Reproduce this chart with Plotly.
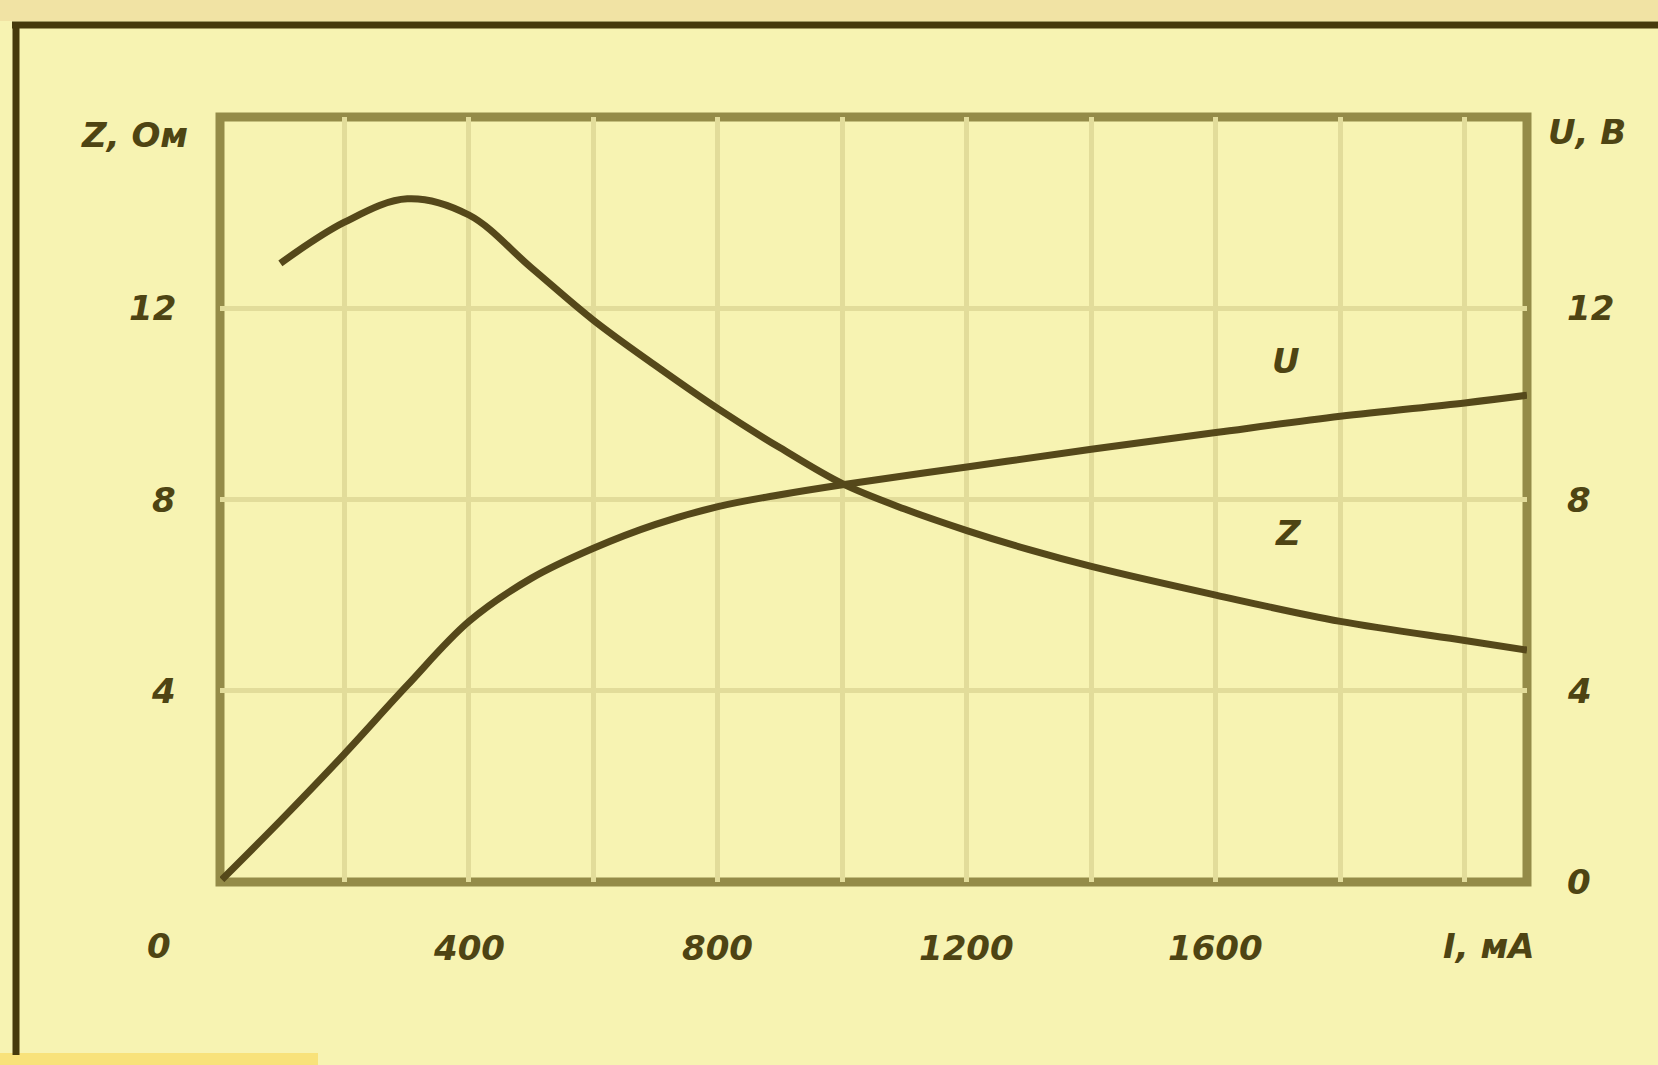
import plotly.graph_objects as go

# Current I, mA and the two characteristics
current_z = [97, 200, 301, 400, 500, 600, 700, 800, 900, 1000, 1100, 1200, 1300, 1400, 1600, 1800, 2000, 2100]
impedance = [12.94, 13.8, 14.29, 13.95, 12.85, 11.75, 10.8, 9.9, 9.08, 8.33, 7.8, 7.35, 6.95, 6.6, 6.0, 5.45, 5.05, 4.85]

current_u = [3, 100, 200, 300, 400, 500, 600, 700, 800, 900, 1000, 1200, 1400, 1600, 1800, 2000, 2100]
voltage = [0.05, 1.32, 2.68, 4.1, 5.45, 6.35, 6.98, 7.48, 7.85, 8.1, 8.31, 8.68, 9.05, 9.4, 9.74, 10.02, 10.18]

x_ticks = [400, 800, 1200, 1600]
y_ticks_left = [4, 8, 12]
y_ticks_right = [0, 4, 8, 12]

W, H = 1658, 1065
L, R, T, B = 220, 131, 117, 183
PW, PH = W - L - R, H - T - B

BG = "#f7f3b2"
INK = "#4e4413"
CURVE = "#55481a"
FRAME = "#948b48"
GRID = "#e2dc9a"


def px(xp):
    return (xp - L) / PW


def py(yp):
    return (H - B - yp) / PH


font = dict(family="DejaVu Sans", size=34, color=INK, weight="bold", style="italic")

fig = go.Figure()
fig.add_trace(go.Scatter(x=current_z, y=impedance, mode="lines",
                         line=dict(color=CURVE, width=7, shape="spline", smoothing=1.0),
                         hoverinfo="skip"))
fig.add_trace(go.Scatter(x=current_u, y=voltage, mode="lines", yaxis="y2",
                         line=dict(color=CURVE, width=7, shape="spline", smoothing=1.0),
                         hoverinfo="skip"))

annotations = []
for v in x_ticks:
    annotations.append(dict(x=v, y=py(948), xref="x", yref="paper", text=str(v),
                            showarrow=False, font=font, xanchor="center", yanchor="middle"))
annotations.append(dict(x=0, y=py(946), xref="paper", yref="paper", text="0", xshift=-61,
                        showarrow=False, font=font, xanchor="center", yanchor="middle"))
annotations.append(dict(x=2039, y=py(946), xref="x", yref="paper", text="I, мА",
                        showarrow=False, font=font, xanchor="center", yanchor="middle"))
for v in y_ticks_left:
    annotations.append(dict(x=0, y=v, xref="paper", yref="y", text=str(v), xshift=-42,
                            showarrow=False, font=font, xanchor="right", yanchor="middle"))
for v in y_ticks_right:
    annotations.append(dict(x=1, y=v, xref="paper", yref="y2", text=str(v), xshift=38,
                            showarrow=False, font=font, xanchor="left", yanchor="middle"))
annotations.append(dict(x=0, y=py(135), xref="paper", yref="paper", text="Z, Ом", xshift=-30,
                        showarrow=False, font=font, xanchor="right", yanchor="middle"))
annotations.append(dict(x=1, y=py(132), xref="paper", yref="paper", text="U, В", xshift=19,
                        showarrow=False, font=font, xanchor="left", yanchor="middle"))
annotations.append(dict(x=1712, y=10.9, xref="x", yref="y", text="U",
                        showarrow=False, font=font, xanchor="center", yanchor="middle"))
annotations.append(dict(x=1717, y=7.3, xref="x", yref="y", text="Z",
                        showarrow=False, font=font, xanchor="center", yanchor="middle"))

shapes = [
    # warm strip along the top edge of the sheet
    dict(type="rect", xref="paper", yref="paper", x0=px(0), x1=px(W), y0=py(0), y1=py(21),
         fillcolor="#f1e3a4", line_width=0, layer="below"),
    # brighter patch at the lower left corner
    dict(type="rect", xref="paper", yref="paper", x0=px(0), x1=px(318), y0=py(1053), y1=py(H),
         fillcolor="#f8e27a", line_width=0, layer="below"),
    # outer frame of the figure
    dict(type="line", xref="paper", yref="paper", x0=px(16), x1=px(16), y0=py(22), y1=py(1055),
         line=dict(color="#463a0c", width=7), layer="above"),
    dict(type="line", xref="paper", yref="paper", x0=px(12), x1=px(W), y0=py(25), y1=py(25),
         line=dict(color="#463a0c", width=7), layer="above"),
    # box of the plotting field
    dict(type="rect", xref="paper", yref="paper", x0=0, x1=1, y0=0, y1=1,
         line=dict(color=FRAME, width=9), layer="between"),
]

fig.update_layout(
    width=W, height=H,
    margin=dict(l=L, r=R, t=T, b=B),
    paper_bgcolor=BG, plot_bgcolor=BG,
    showlegend=False,
    xaxis=dict(range=[0, 2100], tickvals=list(range(200, 2001, 200)), showticklabels=False,
               ticks="", showgrid=True, gridcolor=GRID, gridwidth=5, zeroline=False, showline=False),
    yaxis=dict(range=[0, 16], tickvals=y_ticks_left, showticklabels=False, ticks="",
               showgrid=True, gridcolor=GRID, gridwidth=5, zeroline=False, showline=False),
    yaxis2=dict(range=[0, 16], overlaying="y", side="right", showticklabels=False,
                showgrid=False, zeroline=False, showline=False, ticks=""),
    annotations=annotations,
    shapes=shapes,
)

fig.write_html("out.html")
